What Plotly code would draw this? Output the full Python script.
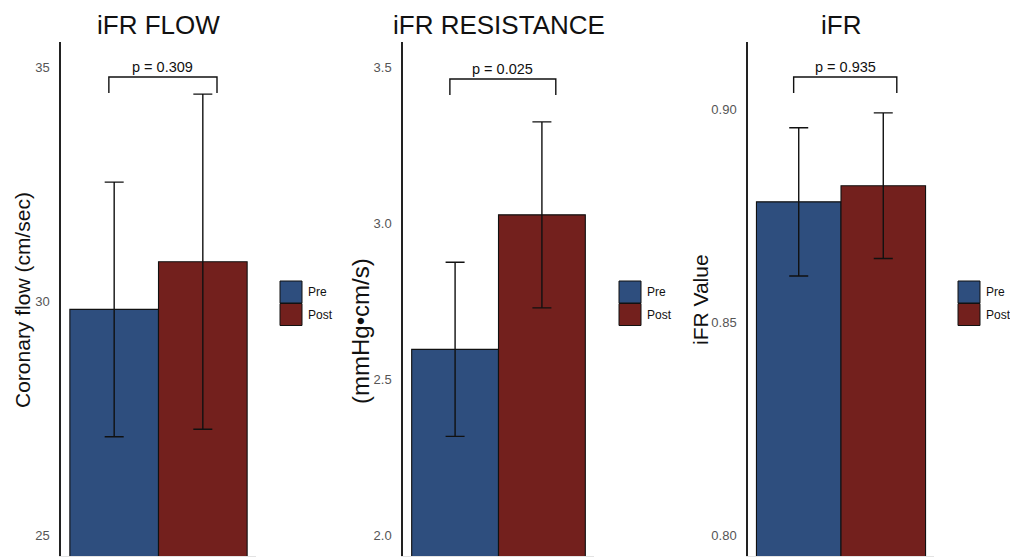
import plotly.graph_objects as go

W, H = 1010, 557

# ---- data -------------------------------------------------------------
groups = ["Pre", "Post"]
panel_titles = ["iFR FLOW", "iFR RESISTANCE", "iFR"]
y_titles = ["Coronary flow (cm/sec)", "(mmHg\u2022cm/s)", "iFR Value"]
p_values = ["p = 0.309", "p = 0.025", "p = 0.935"]

flow_mean = [29.82, 30.84]
flow_err = [2.72, 3.58]
resistance_mean = [2.595, 3.026]
resistance_err = [0.279, 0.298]
ifr_mean = [0.8782, 0.8820]
ifr_err = [0.0174, 0.0171]

flow_ticks = [25, 30, 35]
resistance_ticks = [2.0, 2.5, 3.0, 3.5]
ifr_ticks = [0.80, 0.85, 0.90]
flow_ticktext = ["25", "30", "35"]
resistance_ticktext = ["2.0", "2.5", "3.0", "3.5"]
ifr_ticktext = ["0.80", "0.85", "0.90"]

# ---- styling ----------------------------------------------------------
colors = {"Pre": "#2E4E7E", "Post": "#73201D"}
FONT = "Liberation Sans, Arial, Helvetica, sans-serif"
x_range = [-0.6, 1.6]

# pixel helpers for paper-referenced decorations
def fx(px):
    return px / W

def fy(py):
    return 1 - py / H

panels = [
    dict(mean=flow_mean, err=flow_err, ticks=flow_ticks, ticktext=flow_ticktext,
         yrange=[24.551, 35.534], xdom=[61, 256], ytitle_pos=(22, 300),
         ytitle_size=21, bracket_y=(77, 93), legend_x=280),
    dict(mean=resistance_mean, err=resistance_err, ticks=resistance_ticks,
         ticktext=resistance_ticktext, yrange=[1.9327, 3.580], xdom=[403, 594],
         ytitle_pos=(360, 331), ytitle_size=24, bracket_y=(79, 95), legend_x=619),
    dict(mean=ifr_mean, err=ifr_err, ticks=ifr_ticks, ticktext=ifr_ticktext,
         yrange=[0.79507, 0.91573], xdom=[748, 934], ytitle_pos=(700, 300),
         ytitle_size=21, bracket_y=(77, 93), legend_x=958),
]

fig = go.Figure()
shapes = []
annotations = []
layout_axes = {}

for i, pnl in enumerate(panels):
    n = "" if i == 0 else str(i + 1)
    xa, ya = "x" + n, "y" + n
    for j, g in enumerate(groups):
        fig.add_trace(go.Bar(
            x=[j], y=[pnl["mean"][j]], width=1.0, name=g,
            marker=dict(color=colors[g], line=dict(color="#111111", width=1.1)),
            error_y=dict(type="data", array=[pnl["err"][j]], visible=True,
                         color="#111111", thickness=1.4, width=9.5),
            xaxis=xa, yaxis=ya, showlegend=False,
        ))

    layout_axes["xaxis" + n] = dict(
        domain=[fx(pnl["xdom"][0]), fx(pnl["xdom"][1])], range=x_range,
        showticklabels=False, showgrid=False, zeroline=False,
        showline=True, linecolor="#e3e3e3", linewidth=1.2, ticks="",
        anchor=ya, fixedrange=True,
    )
    layout_axes["yaxis" + n] = dict(
        domain=[fy(556), fy(42)], range=pnl["yrange"],
        tickvals=pnl["ticks"], ticktext=pnl["ticktext"],
        tickfont=dict(family=FONT, size=13, color="#555555"),
        ticks="", ticklabelstandoff=7,
        showgrid=False, zeroline=False,
        showline=True, linecolor="#222222", linewidth=1.5,
        anchor=xa, fixedrange=True,
    )

    # panel title
    annotations.append(dict(
        text=panel_titles[i], xref="paper", yref="paper",
        x=fx((pnl["xdom"][0] + pnl["xdom"][1]) / 2), y=fy(25),
        xanchor="center", yanchor="middle", showarrow=False,
        font=dict(family=FONT, size=26, color="#111111"),
    ))
    # y-axis title
    tx, ty = pnl["ytitle_pos"]
    annotations.append(dict(
        text=y_titles[i], xref="paper", yref="paper", x=fx(tx), y=fy(ty),
        xanchor="center", yanchor="middle", textangle=-90, showarrow=False,
        font=dict(family=FONT, size=pnl["ytitle_size"], color="#111111"),
    ))

    # significance bracket
    x0, x1 = -0.06, 1.16
    top, leg = pnl["bracket_y"]
    shapes.append(dict(
        type="path", xref=xa, yref="paper",
        path=f"M {x0},{fy(leg)} L {x0},{fy(top)} L {x1},{fy(top)} L {x1},{fy(leg)}",
        line=dict(color="#111111", width=1.4),
    ))
    annotations.append(dict(
        text=p_values[i], xref=xa, yref="paper", x=(x0 + x1) / 2, y=fy(top - 10),
        xanchor="center", yanchor="middle", showarrow=False,
        font=dict(family=FONT, size=14.5, color="#111111"),
    ))

    # legend keys
    lx = pnl["legend_x"]
    for j, g in enumerate(groups):
        y0 = 281 + j * 22.5
        shapes.append(dict(
            type="rect", xref="paper", yref="paper",
            x0=fx(lx), x1=fx(lx + 22), y0=fy(y0), y1=fy(y0 + 22),
            fillcolor=colors[g], line=dict(color="#111111", width=1),
        ))
        annotations.append(dict(
            text=g, xref="paper", yref="paper", x=fx(lx + 26), y=fy(y0 + 11),
            xanchor="left", yanchor="middle", showarrow=False,
            font=dict(family=FONT, size=12, color="#111111"),
        ))

fig.update_layout(
    width=W, height=H, margin=dict(l=0, r=0, t=0, b=0),
    paper_bgcolor="white", plot_bgcolor="white",
    barmode="overlay", shapes=shapes, annotations=annotations,
    showlegend=False, **layout_axes,
)

fig.write_html("out.html", config={"displayModeBar": False})
